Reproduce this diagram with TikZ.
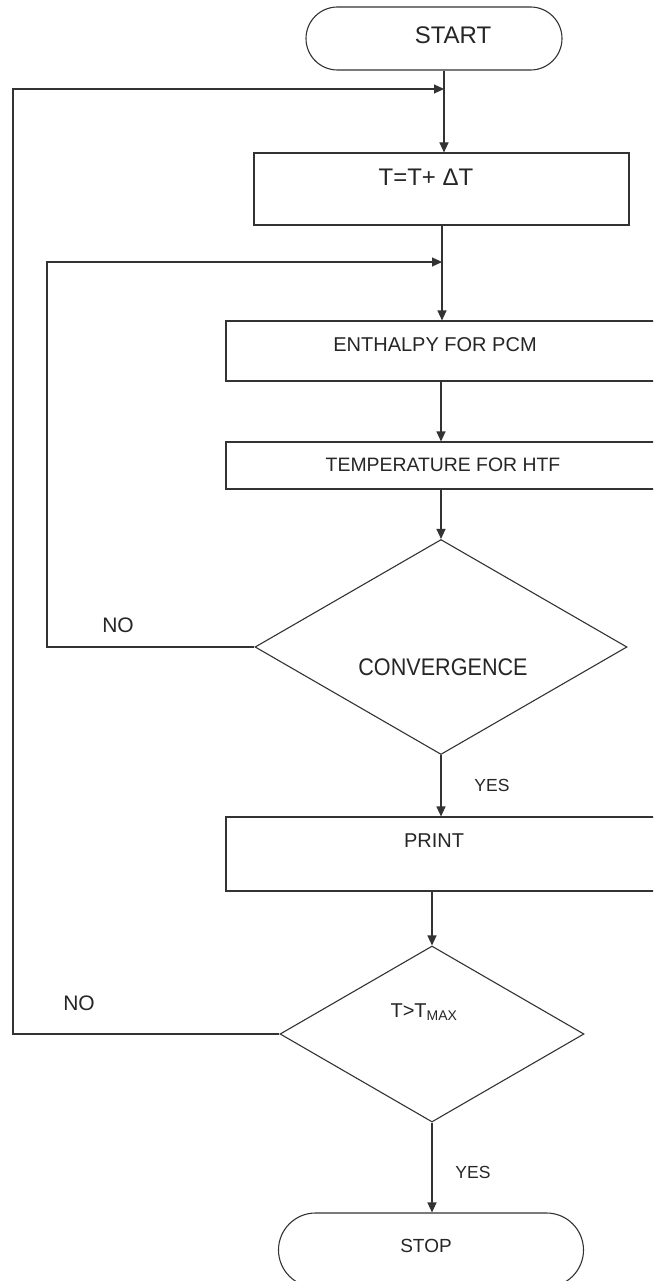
\documentclass[tikz,border=0pt]{standalone}
\usepackage{fontspec}
\setmainfont{Liberation Sans}
\usetikzlibrary{shapes.geometric,shapes.misc,arrows.meta}
\begin{document}
\begin{tikzpicture}[x=1pt,y=-1pt,
  line/.style={draw=black!80,line width=1.1pt},
  arr/.style={line,-{Triangle[length=10pt,width=9pt]}},
  procbox/.style={draw=black!80,line width=1.1pt,rectangle,inner sep=0pt},
  term/.style={draw=black!80,line width=1.1pt,rounded rectangle,inner sep=0pt},
  decision/.style={draw=black!80,line width=1.1pt,diamond,inner sep=0pt},
  txt/.style={inner sep=0pt,text=black!85},
  fs/.style={font=\fontsize{#1}{#1}\selectfont}]
\path[use as bounding box,clip] (0,0) rectangle (653,1281);
\fill[white] (0,0) rectangle (653,1281);

% nodes
\node[term,minimum width=256pt,minimum height=63pt] (start) at (434,38.5) {};
\node[txt,fs=24] (starttxt) at (453,35.5) {START};

\node[procbox,minimum width=375pt,minimum height=72pt] (tbox) at (441.5,189) {};
\node[txt,fs=24] (tboxtxt) at (426,177) {T=T+ ΔT};

\node[procbox,minimum width=474pt,minimum height=60pt] (ebox) at (463,351) {};
\node[txt,fs=20] (eboxtxt) at (435,345) {ENTHALPY FOR PCM};

\node[procbox,minimum width=474pt,minimum height=47pt] (hbox) at (463,465.5) {};
\node[txt,fs=19.4] (hboxtxt) at (443,465) {TEMPERATURE FOR HTF};

\node[decision,minimum width=372pt,minimum height=215pt] (d1) at (441,647) {};
\node[txt,fs=24] (d1txt) at (443,667) {\scalebox{0.9}[1]{CONVERGENCE}};

\node[procbox,minimum width=474pt,minimum height=74pt] (pbox) at (463,854) {};
\node[txt,fs=20] (pboxtxt) at (434,841) {PRINT};

\node[decision,minimum width=304pt,minimum height=176pt] (d2) at (432,1034) {};
\node[txt,fs=20] (d2txt) at (424,1012) {T>T\textsubscript{MAX}};

\node[term,minimum width=305pt,minimum height=74pt] (stop) at (431,1250) {};
\node[txt,fs=19] (stoptxt) at (426,1246) {STOP};

% labels
\node[txt,fs=21] (no1) at (118,625) {NO};
\node[txt,fs=21] (no2) at (79,1003) {NO};
\node[txt,fs=17.5] (yes1) at (492,785) {YES};
\node[txt,fs=17.5] (yes2) at (473,1172) {YES};

% junction coordinates
\coordinate (j1) at (444,89);
\coordinate (j2) at (442,262);
\coordinate (k1) at (13,89);
\coordinate (k2) at (47,262);

% main flow
\draw[arr] (start.south -| j1) -- (tbox.north -| j1);
\draw[arr] (tbox.south -| j2) -- (ebox.north -| j2);
\draw[arr] (ebox.south -| d1) -- (hbox.north -| d1);
\draw[arr] (hbox.south -| d1) -- (d1.north);
\draw[arr] (d1.south) -- (pbox.north -| d1);
\draw[arr] (pbox.south -| d2) -- (d2.north);
\draw[arr] (d2.south) -- (stop.north -| d2);

% loops
\draw[arr] (d1.west) -| (k2) -- (j2);
\draw[arr] (d2.west) -| (k1) -- (j1);
\end{tikzpicture}
\end{document}
